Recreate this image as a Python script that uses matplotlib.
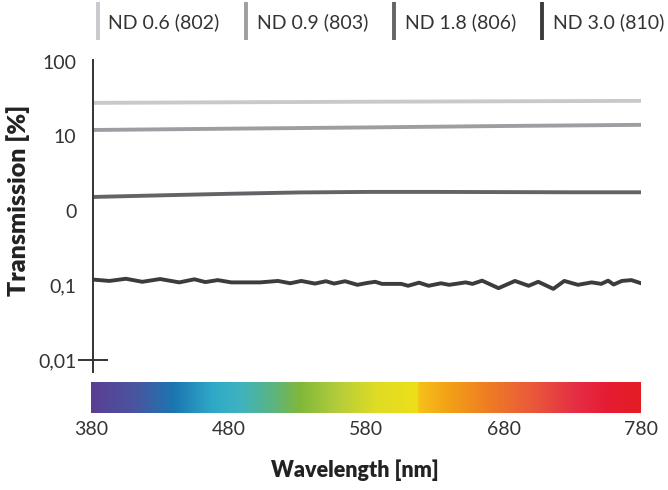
import numpy as np
import matplotlib
matplotlib.use("Agg")
import matplotlib.pyplot as plt
from matplotlib.lines import Line2D
from matplotlib.ticker import FixedLocator, NullFormatter
from matplotlib.colors import LinearSegmentedColormap

plt.rcParams['font.family'] = ['Lato', 'DejaVu Sans']

# ---- data ----
series_names = ["ND 0.6 (802)", "ND 0.9 (803)", "ND 1.8 (806)", "ND 3.0 (810)"]
series_colors = ["#c8c9cc", "#9d9ea1", "#636467", "#3c3c3e"]

nd06_nm = [380, 480, 580, 680, 780]
nd06_t = [28.2, 28.7, 29.2, 29.6, 30.0]

nd09_nm = [380, 480, 580, 680, 780]
nd09_t = [12.2, 12.7, 13.2, 13.8, 14.3]

nd18_nm = [380, 430, 480, 530, 580, 630, 680, 730, 780]
nd18_t = [1.54, 1.62, 1.70, 1.77, 1.80, 1.80, 1.79, 1.78, 1.78]

nd30_nm = [380, 392, 404, 416, 429, 443, 454, 462, 471, 481, 502, 515, 524,
           532, 542, 550, 556, 564, 573, 580, 586, 591, 605, 610, 618, 625,
           634, 640, 652, 657, 664, 676, 688, 698, 705, 716, 724, 734, 744,
           751, 756, 760, 766, 773, 780]
nd30_t = [0.120, 0.115, 0.123, 0.112, 0.122, 0.110, 0.121, 0.111, 0.118, 0.110,
          0.110, 0.115, 0.107, 0.115, 0.106, 0.114, 0.106, 0.114, 0.102, 0.108,
          0.112, 0.105, 0.105, 0.099, 0.109, 0.099, 0.107, 0.102, 0.110, 0.105,
          0.116, 0.092, 0.115, 0.099, 0.112, 0.090, 0.115, 0.102, 0.110, 0.105,
          0.116, 0.103, 0.115, 0.118, 0.107]

y_ticks = [0.01, 0.1, 1, 10, 100]
y_tick_labels = ["0,01", "0,1", "0", "10", "100"]
x_ticks = [380, 480, 580, 680, 780]
x_tick_labels = ["380", "480", "580", "680", "780"]

spectrum_nm = [380, 412, 440, 468, 488, 512, 532, 560, 588, 617.6, 618.4, 640, 668, 700, 732, 756, 780]
spectrum_colors = ["#5a3e94", "#4a55a0", "#1b76b0", "#2ea8c8", "#3db3c0", "#5bb482",
                   "#80b83a", "#b5cd3a", "#e0dc25", "#eedf18", "#f6c11a", "#f3a116",
                   "#ef7e22", "#ea5a3a", "#e52e45", "#e51c32", "#e31d24"]

text_color = "#333333"

# ---- figure ----
W, H = 668, 490
fig = plt.figure(figsize=(W / 100, H / 100), dpi=100)

ax_l, ax_r = 93, 641
ax_top, ax_bot = 60, 372
ax = fig.add_axes([ax_l / W, 1 - ax_bot / H, (ax_r - ax_l) / W, (ax_bot - ax_top) / H])

all_data = [(nd06_nm, nd06_t), (nd09_nm, nd09_t), (nd18_nm, nd18_t), (nd30_nm, nd30_t)]
for (xs, ys), c in zip(all_data, series_colors):
    ax.plot(xs, ys, color=c, lw=2.8, solid_capstyle='round', solid_joinstyle='round')

ax.set_yscale('log')
ax.set_xlim(380, 780)
ax.set_ylim(0.0069, 106)
ax.set_yticks(y_ticks)
ax.set_yticklabels(y_tick_labels)
ax.yaxis.remove_overlapping_locs = False
ax.yaxis.set_minor_locator(FixedLocator([0.01]))
ax.yaxis.set_minor_formatter(NullFormatter())
ax.tick_params(axis='y', which='major', length=0, pad=12, labelsize=14, labelcolor=text_color)
ax.tick_params(axis='y', which='minor', length=22, width=1.4, direction='inout', color='#333333')
ax.set_xticks([])
for s in ['top', 'right', 'bottom']:
    ax.spines[s].set_visible(False)
ax.spines['left'].set_linewidth(1.4)
ax.spines['left'].set_color('#333333')
ax.set_ylabel("Transmission [%]", fontsize=18, fontweight='heavy', color='#222222')
ax.yaxis.label.set_va('center')
ax.yaxis.set_label_coords(-(ax_l - 18) / (ax_r - ax_l), (ax_bot - 200) / (ax_bot - ax_top))
ax.patch.set_alpha(0)

# ---- spectrum bar ----
cb_top, cb_bot = 382, 413
axc = fig.add_axes([91 / W, 1 - cb_bot / H, (641 - 91) / W, (cb_bot - cb_top) / H])
pos = [(v - spectrum_nm[0]) / (spectrum_nm[-1] - spectrum_nm[0]) for v in spectrum_nm]
cmap = LinearSegmentedColormap.from_list("spec", list(zip(pos, spectrum_colors)), N=1024)
grad = np.linspace(380, 780, 1024)[None, :]
axc.imshow(grad, aspect='auto', cmap=cmap, extent=[380, 780, 0, 1], vmin=380, vmax=780)
axc.set_xlim(380, 780)
axc.set_xticks(x_ticks)
axc.set_xticklabels(x_tick_labels)
axc.set_yticks([])
axc.tick_params(axis='x', length=0, pad=6, labelsize=14, labelcolor=text_color)
for s in axc.spines.values():
    s.set_visible(False)
axc.set_xlabel("Wavelength [nm]", fontsize=15.5, fontweight='heavy', color='#222222')
axc.xaxis.label.set_va('center')
axc.xaxis.set_label_coords((355 - 91) / 550, -(470 - cb_bot) / (cb_bot - cb_top))

# ---- legend ----
handles = [Line2D([], [], color=c, marker='|', markersize=27, markeredgewidth=2.8, ls='none')
           for c in series_colors]
fig.legend(handles, series_names, loc='center left', bbox_to_anchor=(85 / W, 1 - 22 / H),
           ncol=4, frameon=False, fontsize=14, labelcolor=text_color,
           handlelength=0.5, handletextpad=0.3, columnspacing=1.1, borderaxespad=0)

fig.savefig("out.png", dpi=100)
